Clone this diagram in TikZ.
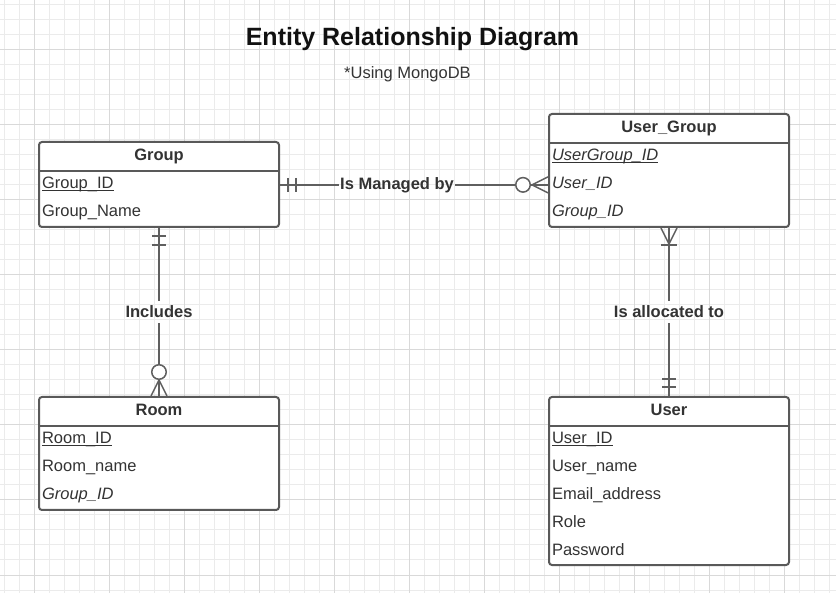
\documentclass[tikz,border=0pt]{standalone}
\usepackage{fontspec}
\setmainfont{Liberation Sans}
\usetikzlibrary{positioning,calc}

\definecolor{boxgray}{HTML}{595959}
\definecolor{linegray}{HTML}{5F5F5F}
\definecolor{txtgray}{HTML}{333333}
\definecolor{titleblack}{HTML}{111111}
\definecolor{gridminor}{HTML}{EBEBEB}
\definecolor{gridmajor}{HTML}{D9D9D9}

\newcommand{\erfont}{\fontsize{16.5}{19.8}\selectfont}
\newcommand{\pkey}[1]{\underline{\smash{#1}}}

\tikzset{
  entity/.style={draw=boxgray, line width=2pt, rounded corners=3pt, fill=white,
    minimum width=240pt, anchor=north west, inner sep=0pt},
  entityhead/.style={font=\erfont\bfseries, text=txtgray, minimum width=240pt,
    text height=12pt, text depth=3.5pt, minimum height=29.5pt, anchor=north, inner sep=0pt},
  divider/.style={draw=boxgray, line width=2pt},
  attr/.style={font=\erfont, text=txtgray, text width=234pt, align=left,
    text height=12pt, text depth=4pt, minimum height=27.5pt,
    inner xsep=3pt, inner ysep=0pt, anchor=north},
  rel/.style={font=\erfont\bfseries, text=txtgray, inner xsep=1pt, inner ysep=5pt},
  link/.style={draw=linegray, line width=1.5pt},
}

\begin{document}
\begin{tikzpicture}[x=1pt, y=-1pt]
\useasboundingbox (0,0) rectangle (836,593);
\fill[white] (0,0) rectangle (836,593);

% grid
\foreach \x in {4,19,...,829}
    \draw[gridminor, line width=1pt] (\x,0) -- (\x,593);
\foreach \y in {5,20,...,590}
    \draw[gridminor, line width=1pt] (0,\y) -- (836,\y);
\foreach \x in {34,109,...,784}
    \draw[gridmajor, line width=1pt] (\x,0) -- (\x,593);
\foreach \y in {50,125,...,575}
    \draw[gridmajor, line width=1pt] (0,\y) -- (836,\y);

% title
\node[font=\fontsize{25}{30}\selectfont\bfseries, text=titleblack] (title) at (412.5,39) {Entity Relationship Diagram};
\node[font=\erfont, text=txtgray] (subtitle) at (407.5,74) {*Using MongoDB};

% Group
\node[entity, minimum height=85pt] (group) at (38,141) {};
\node[entityhead] (groupHead) at (group.north) {Group};
\draw[divider] (groupHead.south west) -- (groupHead.south east);
\node[attr, below=0pt of groupHead] (groupId) {\pkey{Group\_ID}};
\node[attr, below=0pt of groupId] (groupName) {Group\_Name};

% User_Group
\node[entity, minimum height=113pt] (userGroup) at (548,113) {};
\node[entityhead] (ugHead) at (userGroup.north) {User\_Group};
\draw[divider] (ugHead.south west) -- (ugHead.south east);
\node[attr, below=0pt of ugHead] (ugId) {\textit{\pkey{UserGroup\_ID}}};
\node[attr, below=0pt of ugId] (ugUser) {\textit{User\_ID}};
\node[attr, below=0pt of ugUser] (ugGroup) {\textit{Group\_ID}};

% Room
\node[entity, minimum height=113pt] (room) at (38,396) {};
\node[entityhead] (roomHead) at (room.north) {Room};
\draw[divider] (roomHead.south west) -- (roomHead.south east);
\node[attr, below=0pt of roomHead] (roomId) {\pkey{Room\_ID}};
\node[attr, below=0pt of roomId] (roomName) {Room\_name};
\node[attr, below=0pt of roomName] (roomGroup) {\textit{Group\_ID}};

% User
\node[entity, minimum height=168pt] (user) at (548,396) {};
\node[entityhead] (userHead) at (user.north) {User};
\draw[divider] (userHead.south west) -- (userHead.south east);
\node[attr, below=0pt of userHead] (userId) {\pkey{User\_ID}};
\node[attr, below=0pt of userId] (userName) {User\_name};
\node[attr, below=0pt of userName] (userMail) {Email\_address};
\node[attr, below=0pt of userMail] (userRole) {Role};
\node[attr, below=0pt of userRole] (userPass) {Password};

% Group -- User_Group
\coordinate (gE) at (group.east |- groupId);
\coordinate (ugW) at (userGroup.west |- gE);
\node[rel, right=59pt of gE] (manages) {Is Managed by};
\draw[link] (gE) -- (manages);
\draw[link] (manages) -- (ugW);
\draw[link] (gE) ++(8,-7) -- ++(0,14);
\draw[link] (gE) ++(16,-7) -- ++(0,14);
\draw[link, fill=white] (ugW) ++(-25,0) circle[radius=7.25pt];
\draw[link] (ugW) ++(-16,0) -- ++(16,-8);
\draw[link] (ugW) ++(-16,0) -- ++(16,8);

% Group -- Room
\node[rel] (includes) at ($(group.south)!0.5!(room.north)$) {Includes};
\draw[link] (group.south) -- (includes);
\draw[link] (includes) -- (room.north);
\draw[link] (group.south) ++(-7,8) -- ++(14,0);
\draw[link] (group.south) ++(-7,17) -- ++(14,0);
\draw[link, fill=white] (room.north) ++(0,-24) circle[radius=7.25pt];
\draw[link] (room.north) ++(0,-16) -- ++(-8,16);
\draw[link] (room.north) ++(0,-16) -- ++(8,16);

% User_Group -- User
\node[rel] (allocated) at ($(userGroup.south)!0.5!(user.north)$) {Is allocated to};
\draw[link] (userGroup.south) -- (allocated);
\draw[link] (allocated) -- (user.north);
\draw[link] (userGroup.south) ++(-8,0) -- ++(8,16) -- ++(8,-16);
\draw[link] (userGroup.south) ++(-8,17) -- ++(16,0);
\draw[link] (user.north) ++(-7,-9) -- ++(14,0);
\draw[link] (user.north) ++(-7,-17) -- ++(14,0);
\end{tikzpicture}
\end{document}
